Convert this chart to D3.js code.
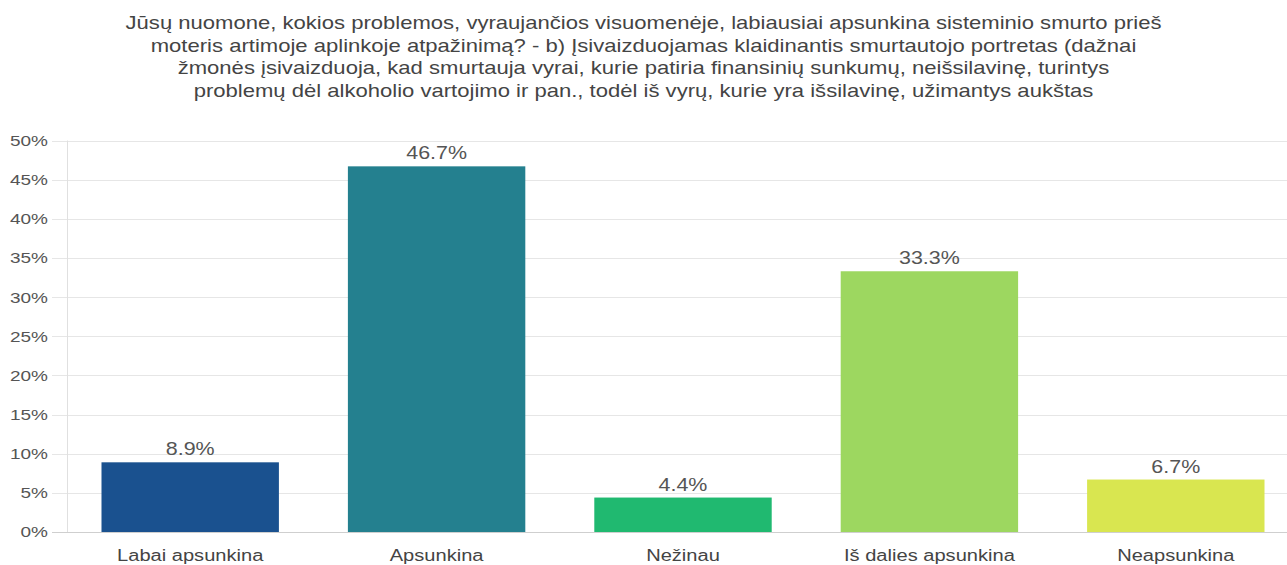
<!DOCTYPE html>
<html>
<head>
<meta charset="utf-8">
<script src="https://cdn.jsdelivr.net/npm/d3@7/dist/d3.min.js"></script>
<style>
  html, body { margin: 0; padding: 0; background: #fff; }
  svg { display: block; font-family: "Liberation Sans", Arial, sans-serif; }
</style>
</head>
<body>
<svg id="chart" width="1287" height="565"></svg>
<script>
const titleLines = [
  "Jūsų nuomone, kokios problemos, vyraujančios visuomenėje, labiausiai apsunkina sisteminio smurto prieš",
  "moteris artimoje aplinkoje atpažinimą? - b) Įsivaizduojamas klaidinantis smurtautojo portretas (dažnai",
  "žmonės įsivaizduoja, kad smurtauja vyrai, kurie patiria finansinių sunkumų, neišsilavinę, turintys",
  "problemų dėl alkoholio vartojimo ir pan., todėl iš vyrų, kurie yra išsilavinę, užimantys aukštas"
];
const categories = ["Labai apsunkina", "Apsunkina", "Nežinau", "Iš dalies apsunkina", "Neapsunkina"];
const values = [8.9, 46.7, 4.4, 33.3, 6.7];
const colors = ["#1a518f", "#24808f", "#20b970", "#9dd760", "#d9e650"];
const yTicks = [0, 5, 10, 15, 20, 25, 30, 35, 40, 45, 50];

const svg = d3.select("#chart");
const W = 1287, H = 565;
const SX = 1.226; // horizontal stretch of the text in the picture
const margin = { left: 67, right: -12, top: 140.5, bottom: 33 };

const x = d3.scaleBand().domain(categories)
  .range([margin.left, W - margin.right]).paddingInner(0).paddingOuter(0);
const y = d3.scaleLinear().domain([0, 50]).range([H - margin.bottom, margin.top]);

function stretched(sel, fx, fy) {
  sel.attr("x", 0).attr("y", 0)
     .attr("transform", (d, i) => `translate(${fx(d, i)},${fy(d, i)}) scale(${SX},1)`);
}

// title
svg.append("g").selectAll("text").data(titleLines).join("text")
  .call(stretched, () => W / 2, (d, i) => 29 + i * 22.5)
  .attr("text-anchor", "middle")
  .attr("fill", "#444")
  .style("font-size", "18px")
  .text(d => d);

// horizontal grid
svg.append("g").selectAll("line").data(yTicks).join("line")
  .attr("x1", margin.left - 15).attr("x2", W)
  .attr("y1", d => Math.round(y(d)) + 0.5).attr("y2", d => Math.round(y(d)) + 0.5)
  .attr("stroke", d => d === 0 ? "#cfcfcf" : "#e6e6e6").attr("stroke-width", 1);

// vertical axis line
svg.append("line")
  .attr("x1", margin.left + 0.5).attr("x2", margin.left + 0.5)
  .attr("y1", y(50)).attr("y2", y(0))
  .attr("stroke", "#e0e0e0");

// y tick labels
svg.append("g").selectAll("text").data(yTicks).join("text")
  .call(stretched, () => 48, d => y(d))
  .attr("dy", "0.35em")
  .attr("text-anchor", "end")
  .attr("fill", "#555")
  .style("font-size", "15.5px")
  .text(d => d + "%");

// bars
const bw = x.bandwidth() * 0.72;
svg.append("g").selectAll("rect").data(values).join("rect")
  .attr("x", (d, i) => x(categories[i]) + (x.bandwidth() - bw) / 2)
  .attr("width", bw)
  .attr("y", d => y(d))
  .attr("height", d => y(0) - y(d))
  .attr("fill", (d, i) => colors[i]);

// value labels
svg.append("g").selectAll("text").data(values).join("text")
  .call(stretched, (d, i) => x(categories[i]) + x.bandwidth() / 2, d => y(d) - 7)
  .attr("text-anchor", "middle")
  .attr("fill", "#555")
  .style("font-size", "17.5px")
  .text(d => d.toFixed(1) + "%");

// x labels
svg.append("g").selectAll("text").data(categories).join("text")
  .call(stretched, d => x(d) + x.bandwidth() / 2, () => 561)
  .attr("text-anchor", "middle")
  .attr("fill", "#444")
  .style("font-size", "16.4px")
  .text(d => d);
</script>
</body>
</html>
